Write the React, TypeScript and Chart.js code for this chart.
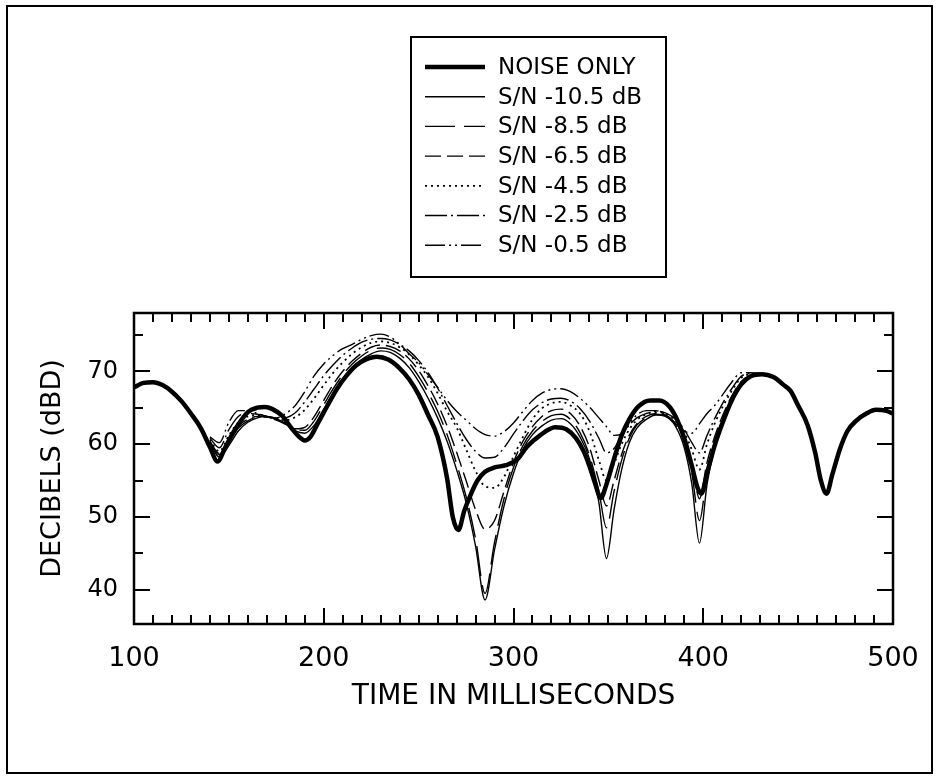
import React, { useEffect, useRef } from "react";
import { Chart, registerables } from "chart.js";

Chart.register(...registerables);

const xTicks = [100, 200, 300, 400, 500];
const yTicks = [40, 50, 60, 70];
const xTitle = "TIME IN MILLISECONDS";
const yTitle = "DECIBELS (dBD)";
const seriesLabels = [
  "NOISE ONLY",
  "S/N -10.5 dB",
  "S/N -8.5 dB",
  "S/N -6.5 dB",
  "S/N -4.5 dB",
  "S/N -2.5 dB",
  "S/N -0.5 dB",
];

const noiseTime = [
  100, 105, 110, 115, 120, 125, 130, 135, 140, 144, 148, 153, 160, 165, 169, 173, 178, 183, 187, 190,
  193, 197, 202, 207, 212, 217, 222, 228, 234, 240, 245, 250, 255, 260, 265, 268, 271, 274, 277, 281,
  285, 290, 296, 302, 307, 314, 322, 328, 333, 337, 340, 343, 346, 349, 353, 357, 361, 366, 372, 377,
  382, 386, 390, 394, 397, 399, 402, 406, 410, 415, 420, 425, 431, 437, 442, 446, 450, 455, 459, 462,
  465, 468, 472, 476, 481, 486, 491, 496, 500,
];
const noiseOnly = [
  67.8, 68.4, 68.5, 68.1, 67.2, 65.9, 64.2, 62.3, 59.6, 57.6, 59.5, 61.9, 64.4, 65.0, 65.1, 64.8, 63.9, 62.2, 61.0, 60.5,
  61.0, 62.9, 65.3, 67.6, 69.4, 70.8, 71.6, 72.0, 71.6, 70.4, 68.9, 66.8, 64.0, 61.0, 55.3, 50.0, 48.2, 50.8, 52.8, 55.0,
  56.2, 56.8, 57.1, 57.9, 59.6, 61.2, 62.3, 62.0, 60.8, 59.0, 57.0, 54.6, 52.6, 54.5, 58.0, 61.2, 63.4, 65.2, 66.0, 66.0,
  65.2, 63.5, 60.8, 57.0, 54.0, 53.2, 56.0, 59.8, 62.8, 66.0, 68.2, 69.3, 69.6, 69.2, 68.2, 67.3, 65.3, 62.6, 58.8, 55.0,
  53.2, 55.8, 59.3, 61.8, 63.3, 64.2, 64.7, 64.6, 64.2,
];

const snTime = [
  140, 145, 150, 155, 160, 165, 170, 175, 180, 185,
  190, 195, 200, 205, 210, 215, 220, 225, 230, 235,
  240, 245, 250, 255, 260, 265, 270, 275, 280, 285,
  290, 295, 300, 305, 310, 315, 320, 325, 330, 335,
  340, 345, 349, 353, 357, 361, 365, 370, 375, 380,
  385, 390, 394, 398, 402, 406, 410, 415, 420, 425,
  430,
];
const sn105 = [
  60.2, 58.2, 59.8, 61.8, 63.0, 63.6, 63.8, 63.5, 62.8, 61.8,
  61.5, 62.6, 64.8, 67.0, 69.0, 70.5, 71.6, 72.4, 72.8, 72.6,
  71.8, 70.5, 68.6, 66.3, 63.6, 60.4, 56.5, 52.0, 46.0, 38.6,
  45.5, 51.5, 56.0, 59.3, 61.3, 62.5, 63.3, 63.5, 62.8, 61.0,
  58.0, 52.0, 44.3, 51.0, 56.5, 60.2, 62.2, 63.4, 64.0, 63.8,
  62.6, 59.5, 54.5, 46.4, 54.5, 59.5, 62.8, 65.8, 68.0, 69.2,
  69.6,
];
const sn85 = [
  60.3, 58.5, 60.3, 62.2, 63.2, 63.7, 63.7, 63.4, 62.8, 62.0,
  61.9, 63.2, 65.4, 67.6, 69.5, 71.0, 72.1, 72.9, 73.2, 73.0,
  72.3, 71.1, 69.3, 67.1, 64.5, 61.3, 57.3, 52.8, 47.0, 39.5,
  46.5, 52.5, 56.8, 59.8, 61.8, 63.1, 63.9, 64.1, 63.4, 61.6,
  58.5, 53.5, 48.5, 53.5, 57.8, 60.8, 62.6, 63.6, 64.1, 63.9,
  62.8, 60.2, 56.0, 49.5, 56.0, 60.3, 63.3, 66.2, 68.3, 69.3,
  69.6,
];
const sn65 = [
  60.4, 58.7, 60.7, 62.5, 63.4, 63.8, 63.7, 63.3, 62.7, 62.1,
  62.3, 63.8, 66.0, 68.2, 70.0, 71.4, 72.5, 73.3, 73.6, 73.4,
  72.8, 71.7, 70.1, 68.0, 65.5, 62.5, 58.9, 55.0, 51.0, 48.3,
  49.5, 53.5, 57.5, 60.4, 62.4, 63.8, 64.6, 64.8, 64.2, 62.5,
  59.6, 55.0, 51.5, 55.0, 58.6, 61.2, 62.8, 63.8, 64.2, 64.0,
  63.0, 60.8, 57.5, 52.5, 57.5, 61.0, 63.8, 66.6, 68.6, 69.4,
  69.6,
];
const sn45 = [
  60.6, 59.0, 61.2, 63.0, 63.8, 64.0, 63.8, 63.4, 63.3, 63.7,
  64.7, 66.3, 68.1, 69.8, 71.2, 72.4, 73.3, 73.9, 74.1, 73.9,
  73.3, 72.3, 70.9, 69.2, 67.0, 64.5, 62.3, 59.3, 56.3, 54.2,
  54.0, 55.5, 58.3, 61.0, 63.4, 64.9, 65.6, 65.8, 65.3, 64.2,
  61.8, 57.8, 55.0, 57.3, 60.0, 62.0, 63.3, 64.1, 64.4, 64.2,
  63.3, 61.6, 59.2, 56.5, 60.0, 62.8, 65.0, 67.3, 69.1, 69.6,
  69.7,
];
const sn25 = [
  60.8, 59.5, 62.0, 63.8, 64.2, 64.1, 63.8, 63.5, 63.6, 64.3,
  65.8, 67.6, 69.4, 70.9, 72.2, 73.2, 74.0, 74.4, 74.5, 74.3,
  73.7, 72.8, 71.5, 69.8, 67.7, 65.3, 62.9, 60.7, 59.0, 58.1,
  58.2, 59.5, 61.4, 63.2, 64.7, 65.7, 66.2, 66.3, 65.9, 64.9,
  63.2, 60.8, 58.8, 59.4, 61.2, 62.6, 63.6, 64.2, 64.5, 64.3,
  63.5, 62.0, 60.2, 58.8, 61.2, 63.5, 65.5, 67.6, 69.3, 69.7,
  69.7,
];
const sn05 = [
  61.0, 60.2, 63.0, 64.6, 64.6, 64.2, 63.8, 63.6, 64.2, 65.3,
  67.2, 69.4, 71.0, 72.2, 73.1, 73.7, 74.4, 74.9, 75.1, 74.7,
  73.7, 72.4, 71.2, 69.5, 67.8, 66.0, 64.5, 63.3, 62.1, 61.3,
  61.1, 61.7, 62.9, 64.5, 66.0, 67.0, 67.5, 67.6, 67.2, 66.3,
  65.1, 63.6, 62.4, 61.2, 61.4, 62.8, 64.0, 64.6, 64.6, 64.0,
  62.9, 61.8, 61.5, 62.8, 64.2, 65.3, 66.7, 68.5, 69.8, 69.8,
  69.7,
];

const FONT = "'DejaVu Sans', Verdana, sans-serif";

const pts = (t: number[], v: number[]) => t.map((x, i) => ({ x, y: v[i] }));

const framePlugin = {
  id: "framePlugin",
  afterDraw(chart: any) {
    const ctx = chart.ctx;
    const { left, right, top, bottom } = chart.chartArea;
    const xs = chart.scales.x;
    const ys = chart.scales.y;
    ctx.save();
    ctx.strokeStyle = "#000";
    ctx.fillStyle = "#000";
    ctx.setLineDash([]);
    // plot frame
    ctx.lineWidth = 2.5;
    ctx.strokeRect(left, top, right - left, bottom - top);
    // ticks
    ctx.lineWidth = 2;
    ctx.beginPath();
    for (let v = xs.min; v <= xs.max + 0.001; v += 10) {
      const px = Math.round(xs.getPixelForValue(v));
      const len = Math.abs(v % 100) < 0.001 ? 16 : 9;
      ctx.moveTo(px, top);
      ctx.lineTo(px, top + len);
      ctx.moveTo(px, bottom);
      ctx.lineTo(px, bottom - len);
    }
    for (let v = 40; v <= ys.max; v += 5) {
      const py = Math.round(ys.getPixelForValue(v));
      const len = v % 10 === 0 ? 16 : 9;
      ctx.moveTo(left, py);
      ctx.lineTo(left + len, py);
      ctx.moveTo(right, py);
      ctx.lineTo(right - len, py);
    }
    ctx.stroke();
    // outer frame
    ctx.lineWidth = 2;
    ctx.strokeRect(7, 6, 925, 767);
    // legend
    const lx = 411, ly = 37, lw = 255, lh = 240;
    ctx.strokeRect(lx, ly, lw, lh);
    ctx.font = `23px ${FONT}`;
    ctx.textBaseline = "middle";
    ctx.textAlign = "left";
    chart.data.datasets.forEach((ds: any, i: number) => {
      const y = 67 + i * 29.7;
      ctx.lineWidth = ds.borderWidth;
      ctx.setLineDash(ds.borderDash || []);
      ctx.beginPath();
      ctx.moveTo(425, y);
      ctx.lineTo(485, y);
      ctx.stroke();
      ctx.setLineDash([]);
      ctx.fillText(ds.label, 498, y + 1);
    });
    ctx.restore();
  },
};

export default function App() {
  const ref = useRef<HTMLCanvasElement | null>(null);
  useEffect(() => {
    if (!ref.current) return;
    const thin = 1.4;
    const chart = new Chart(ref.current, {
      type: "line",
      data: {
        datasets: [
          { label: seriesLabels[0], data: pts(noiseTime, noiseOnly), borderWidth: 4.5, borderDash: [] },
          { label: seriesLabels[1], data: pts(snTime, sn105), borderWidth: thin, borderDash: [] },
          { label: seriesLabels[2], data: pts(snTime, sn85), borderWidth: thin, borderDash: [30, 9] },
          { label: seriesLabels[3], data: pts(snTime, sn65), borderWidth: thin, borderDash: [16, 6] },
          { label: seriesLabels[4], data: pts(snTime, sn45), borderWidth: 1.8, borderDash: [2, 4] },
          { label: seriesLabels[5], data: pts(snTime, sn25), borderWidth: thin, borderDash: [22, 4, 2, 4] },
          { label: seriesLabels[6], data: pts(snTime, sn05), borderWidth: thin, borderDash: [20, 4, 2, 4, 2, 4] },
        ].map((d) => ({
          ...d,
          borderColor: "#000",
          backgroundColor: "#000",
          pointRadius: 0,
          fill: false,
          cubicInterpolationMode: "monotone" as const,
        })),
      },
      options: {
        responsive: false,
        animation: false,
        layout: { padding: { top: 313, right: 47, left: 0, bottom: 0 } },
        plugins: { legend: { display: false }, tooltip: { enabled: false } },
        scales: {
          x: {
            type: "linear",
            min: 100,
            max: 500,
            afterBuildTicks: (s: any) => {
              s.ticks = xTicks.map((value) => ({ value }));
            },
            afterFit: (s: any) => {
              s.height = 156;
            },
            grid: { display: false, drawTicks: false },
            border: { display: false },
            ticks: {
              color: "#000",
              font: { family: FONT, size: 27 },
              padding: 19,
              maxRotation: 0,
              minRotation: 0,
              autoSkip: false,
            },
            title: {
              display: true,
              text: xTitle,
              color: "#000",
              font: { family: FONT, size: 28 },
              padding: { top: 0, bottom: 66 },
            },
          },
          y: {
            type: "linear",
            min: 35.3,
            max: 78,
            afterBuildTicks: (s: any) => {
              s.ticks = yTicks.map((value) => ({ value }));
            },
            afterFit: (s: any) => {
              s.width = 134;
            },
            grid: { display: false, drawTicks: false },
            border: { display: false },
            ticks: {
              color: "#000",
              font: { family: FONT, size: 24 },
              padding: 16,
            },
            title: {
              display: true,
              text: yTitle,
              color: "#000",
              font: { family: FONT, size: 27 },
              padding: { top: 37, bottom: 0 },
            },
          },
        },
      },
      plugins: [framePlugin],
    });
    return () => chart.destroy();
  }, []);
  return (
    <div style={{ position: "absolute", left: 0, top: 0, width: 940, height: 780, background: "#fff" }}>
      <canvas ref={ref} width={940} height={780} />
    </div>
  );
}
